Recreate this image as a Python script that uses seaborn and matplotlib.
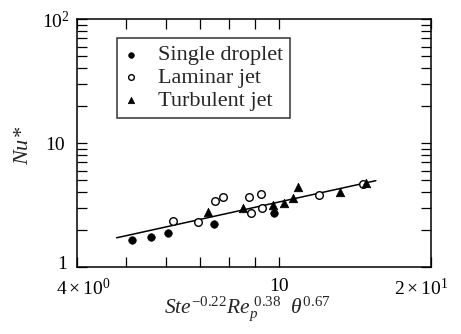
import numpy as np
import pandas as pd
import matplotlib
matplotlib.use("Agg")
import matplotlib.pyplot as plt
import matplotlib.transforms as mtransforms
import seaborn as sns
from matplotlib.ticker import FixedLocator, FixedFormatter, NullFormatter

# --- data ---
single_x = [5.13, 5.60, 6.06, 7.45, 9.79]
single_y = [1.65, 1.76, 1.87, 2.22, 2.71]

laminar_x = [6.20, 6.94, 7.50, 7.77, 8.76, 8.84, 9.23, 9.29, 12.04, 14.65]
laminar_y = [2.34, 2.32, 3.41, 3.65, 3.65, 2.74, 3.88, 3.01, 3.81, 4.67]

turb_x = [7.24, 8.49, 9.76, 10.25, 10.70, 10.92, 13.21, 14.88]
turb_y = [2.79, 3.01, 3.16, 3.26, 3.58, 4.39, 4.03, 4.73]

fit_x = [4.79, 15.56]
fit_y = [1.72, 4.97]

labels = ["Single droplet", "Laminar jet", "Turbulent jet"]
x_major = [4, 10, 20]
x_major_labels = [r"$4\times10^0$", "10", r"$2\times10^1$"]
x_minor = [5, 6, 7, 8, 9]
y_major = [1, 10, 100]
y_major_labels = ["1", "10", r"$10^2$"]

sns.set_style("ticks")
plt.rcParams["font.family"] = ["Liberation Serif", "DejaVu Serif"]
plt.rcParams["mathtext.fontset"] = "custom"
plt.rcParams["mathtext.rm"] = "Liberation Serif"
plt.rcParams["mathtext.it"] = "Liberation Serif:italic"
plt.rcParams["mathtext.bf"] = "Liberation Serif:bold"

fig = plt.figure(figsize=(4.61, 3.34), dpi=100)
ax = fig.add_axes([0.167, 0.2006, 0.768, 0.7424])

df_s = pd.DataFrame({"x": single_x, "y": single_y})
df_l = pd.DataFrame({"x": laminar_x, "y": laminar_y})
df_t = pd.DataFrame({"x": turb_x, "y": turb_y})
df_f = pd.DataFrame({"x": fit_x, "y": fit_y})

sns.lineplot(data=df_f, x="x", y="y", ax=ax, color="black", lw=1.1, legend=False)
sns.scatterplot(data=df_s, x="x", y="y", ax=ax, marker="o", s=30, color="black",
                edgecolor="black", label=labels[0], zorder=3)
sns.scatterplot(data=df_l, x="x", y="y", ax=ax, marker="o", s=30, facecolor="white",
                edgecolor="black", linewidth=1.0, label=labels[1], zorder=3)
sns.scatterplot(data=df_t, x="x", y="y", ax=ax, marker="^", s=38, color="black",
                edgecolor="black", label=labels[2], zorder=3)

ax.set_xscale("log")
ax.set_yscale("log")
ax.set_xlim(4, 20)
ax.set_ylim(1, 100)

ax.xaxis.set_major_locator(FixedLocator(x_major))
ax.xaxis.set_major_formatter(FixedFormatter(x_major_labels))
ax.xaxis.set_minor_locator(FixedLocator(x_minor))
ax.xaxis.set_minor_formatter(NullFormatter())
ax.yaxis.set_major_locator(FixedLocator(y_major))
ax.yaxis.set_major_formatter(FixedFormatter(y_major_labels))

for s in ax.spines.values():
    s.set_linewidth(1.1)
    s.set_color("black")
ax.tick_params(which="both", direction="in", top=True, right=True,
               labelsize=14, width=0.9, colors="black", length=7)
ax.tick_params(axis="y", which="major", pad=9)
ax.tick_params(axis="x", which="major", pad=8)

# nudge edge tick labels like the reference
def shift(lab, dx, dy):
    lab.set_transform(lab.get_transform() +
                      mtransforms.ScaledTranslation(dx / 100, dy / 100, fig.dpi_scale_trans))

xl = ax.get_xticklabels()
shift(xl[0], 6, 0)
shift(xl[2], -10, 0)
yl = ax.get_yticklabels()
shift(yl[0], 3, 4)
shift(yl[2], 5, 0)

ax.set_xlabel(r"$Ste^{\mathrm{-0.22}}Re_p^{\ \mathrm{0.38}}\ \ \theta^{\mathrm{0.67}}$",
              fontsize=15.5, labelpad=-3)
ax.xaxis.set_label_coords(0.482, -0.11)
ax.set_ylabel(r"$Nu$*", fontsize=16, style="italic")
ax.yaxis.set_label_coords(-0.125, 0.49)

leg = ax.legend(loc="upper left", bbox_to_anchor=(0.113, 0.923), frameon=True,
                fancybox=False, edgecolor="black", fontsize=16, markerscale=0.75,
                handletextpad=0.9, borderpad=0.3, labelspacing=0.1,
                handlelength=0.65, borderaxespad=0)
leg.get_frame().set_linewidth(1.1)

fig.savefig("out.png", dpi=100)
